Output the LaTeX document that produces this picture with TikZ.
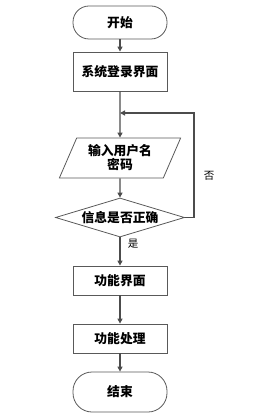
\documentclass[tikz,border=0pt]{standalone}
\usepackage{fontspec}
\setmainfont{Noto Sans CJK SC}
\usetikzlibrary{shapes.geometric,arrows.meta}
\begin{document}
\begin{tikzpicture}[x=1pt,y=-1pt,
  box/.style={draw=black!65,line width=0.8pt,minimum width=94pt,inner sep=0pt,font=\bfseries\fontsize{12.8}{14}\selectfont},
  term/.style={box,rounded corners=16pt},
  io/.style={draw=black!65,line width=0.8pt,trapezium,trapezium left angle=64,trapezium right angle=116,minimum width=122pt,minimum height=40pt,inner sep=0pt,trapezium stretches=true,font=\bfseries\fontsize{12.8}{15}\selectfont,align=center},
  dec/.style={draw=black!65,line width=0.8pt,diamond,aspect=3.3,minimum width=129pt,minimum height=39pt,inner sep=0pt,font=\bfseries\fontsize{12.8}{14}\selectfont},
  conn/.style={draw=black!70,line width=1.3pt,-{Triangle[length=5pt,width=5pt]}},
  lbl/.style={font=\fontsize{10.5}{12}\selectfont}]
\useasboundingbox (0,0) rectangle (260,419);
\node[term,minimum height=33pt] (start) at (120,22.5) {开始};
\node[box,minimum height=39pt] (login) at (120,71.5) {系统登录界面};
\node[io] (input) at (120,158) {输入用户名\\[-1pt]密码};
\node[dec] (check) at (120,217.5) {信息是否正确};
\node[box,minimum height=29pt] (func) at (120,280.5) {功能界面};
\node[box,minimum height=29pt] (proc) at (120,338.5) {功能处理};
\node[term,minimum height=40pt,rounded corners=19pt] (end) at (120,392) {结束};
\coordinate (merge) at (120,113);
\coordinate (rt) at (194,217.5);
\coordinate (rtop) at (194,113);
\draw[conn] (start) -- (login);
\draw[conn] (login) -- (input);
\draw[conn] (input) -- (check);
\draw[conn] (check) -- node[lbl,right,pos=0.3,xshift=4pt,yshift=2pt] (yes) {是} (func);
\draw[conn] (func) -- (proc);
\draw[conn] (proc) -- (end);
\draw[conn] (check.east) -- (rt) -- (rtop) -- (merge);
\node[lbl] (no) at (209,176) {否};
\end{tikzpicture}
\end{document}
